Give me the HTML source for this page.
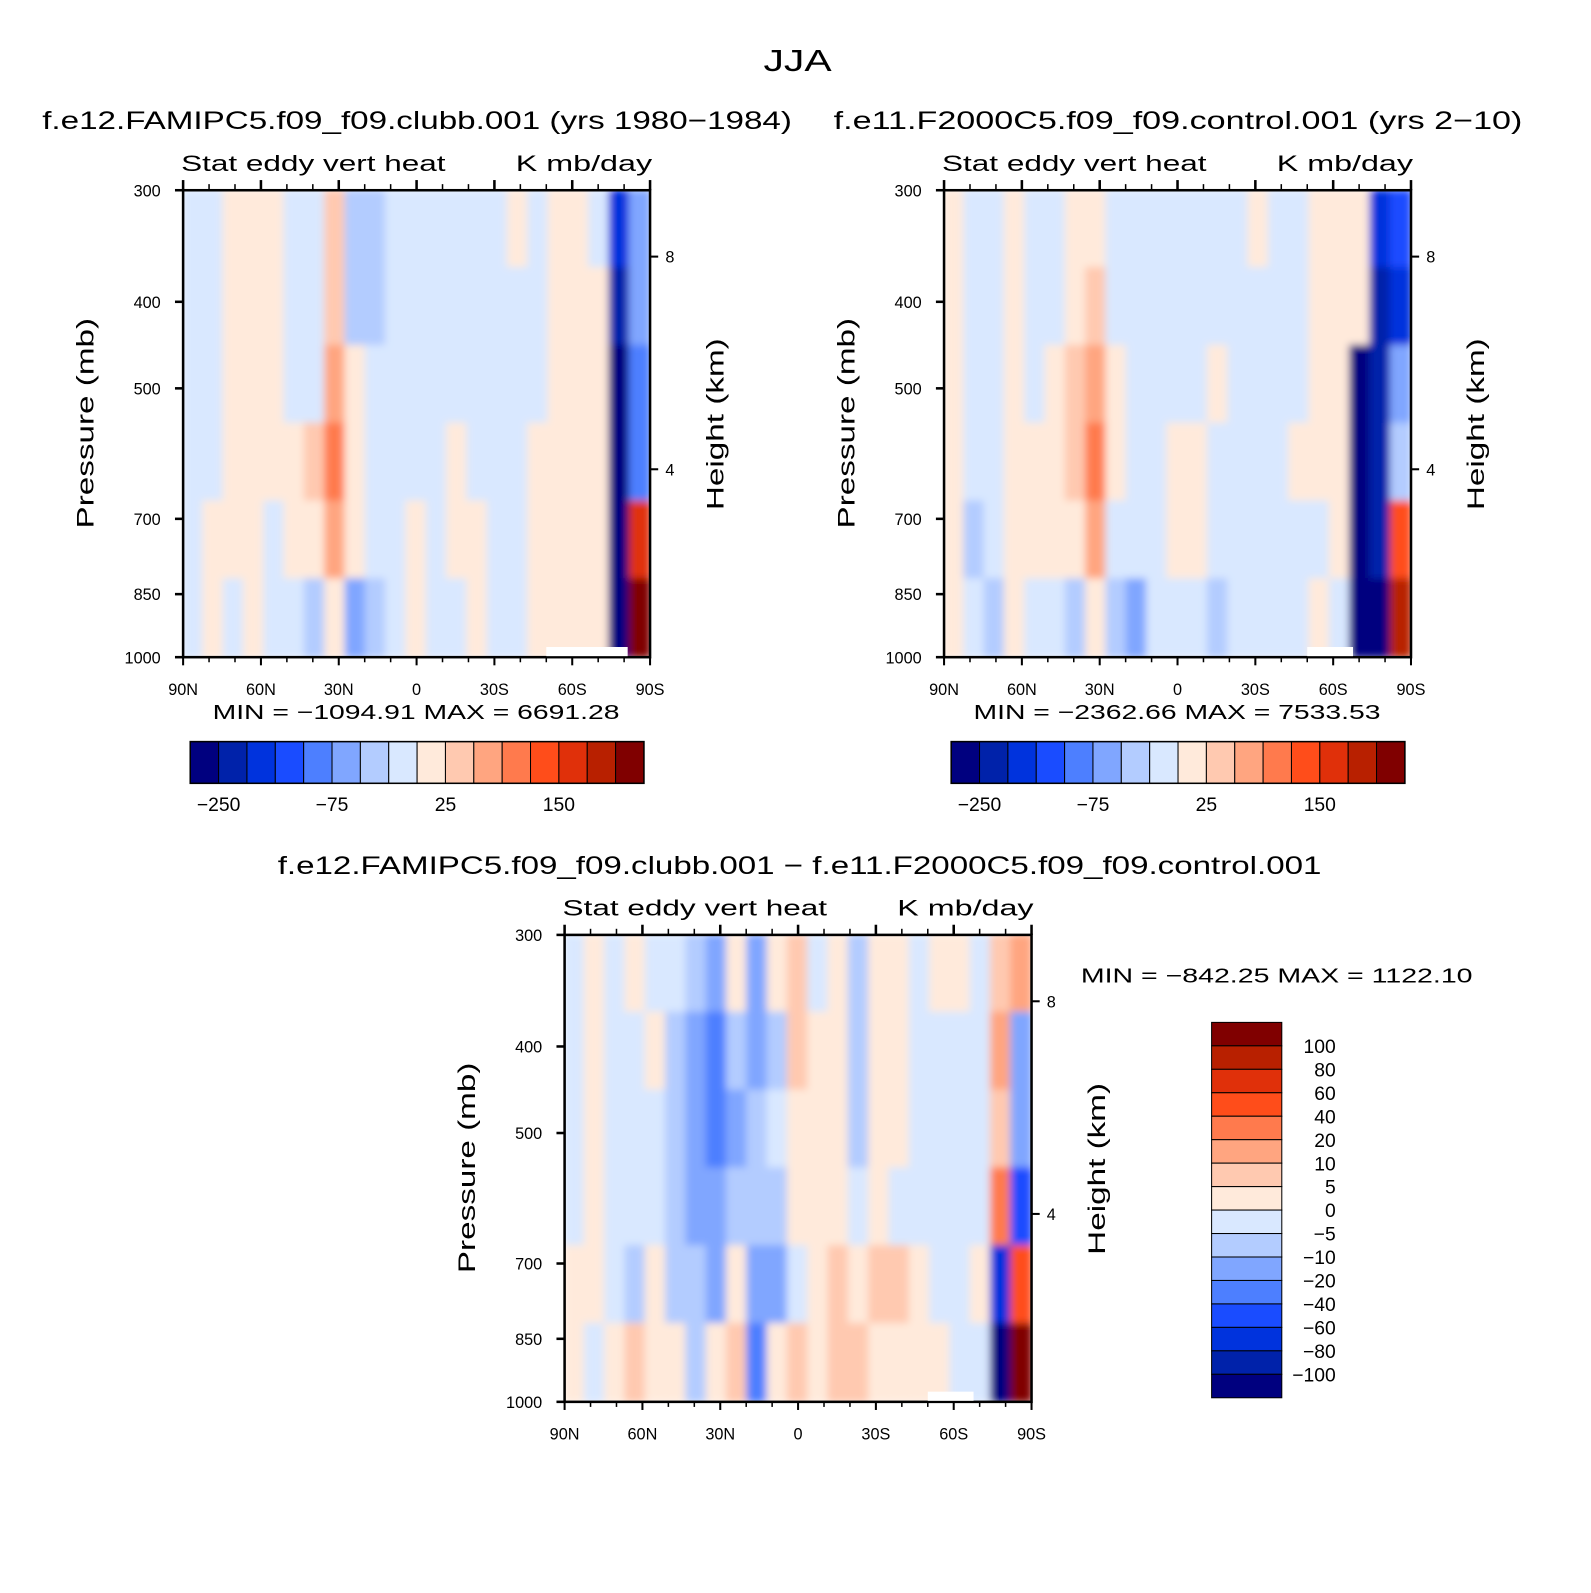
<!DOCTYPE html>
<html><head><meta charset="utf-8"><style>
body{margin:0;background:#fff}
svg text{font-family:"Liberation Sans","DejaVu Sans",sans-serif;fill:#000}
</style></head><body>
<svg width="1591" height="1588" viewBox="0 0 1591 1588" xmlns="http://www.w3.org/2000/svg">
<defs>
<filter id="bl" x="-5%" y="-5%" width="110%" height="110%"><feGaussianBlur stdDeviation="4"/></filter>
<clipPath id="cp1"><rect x="180" y="187" width="459" height="459"/></clipPath>
<clipPath id="cp2"><rect x="928" y="187" width="459" height="459"/></clipPath>
<clipPath id="cp3"><rect x="555" y="919" width="459" height="459"/></clipPath>
</defs>
<g id="c" transform="scale(1.0173)">
<text x="784" y="70" font-size="30" text-anchor="middle" textLength="67" lengthAdjust="spacingAndGlyphs">JJA</text>
</g>
</svg>
<script>
const palette=["#00007f","#0022aa","#0033dd","#1a4cff","#4d7fff","#80a6ff","#b3ccff","#d9e8ff","#ffeadb","#ffc9b0","#ffa580","#ff7a4d","#ff4d1a","#e0300a","#b82000","#800000"];
const latTicks=[90,60,30,0,-30,-60,-90];
const latLabels=["90N","60N","30N","0","30S","60S","90S"];
const presTicks=[300,400,500,700,850,1000];
const heightTicks=[8,4];
const heightTickPres=[356,616];
const cbarLabels12=["-250","-75","25","150"];
const cbarLabelIdx=[1,5,9,13];
const cbarLabels3=["100","80","60","40","20","10","5","0","\u22125","\u221210","\u221220","\u221240","\u221260","\u221280","\u2212100"];
// color-class grid per panel: rows top(300mb)->bottom(1000mb), columns 90N->90S
const grid1=["77888779667777778788725","77888779667777777788815","7788877a877777777788804","7788889b877778777888804","7888788a87787887788880d","7878776856787787788880f"];
const grid2=["87787788777777787788823","87787789777777777788812","8778789a877778777788015","8778889b877887777888016","8678888a77788777777801c","8768776865777677778700e"];
const grid3=["7878776585897868878879a","787786546569886887777a5","78777654567888688777795","787776556668887877777b3","8876866585578989987782c","8789886894898998888770f"];
const panels=[
 {x:180,y:187,grid:grid1,clip:"cp1",title:"f.e12.FAMIPC5.f09_f09.clubb.001 (yrs 1980\u22121984)",tx:410,tl:737,min:"MIN = \u22121094.91   MAX = 6691.28",cb:true,name:"panel-clubb"},
 {x:928,y:187,grid:grid2,clip:"cp2",title:"f.e11.F2000C5.f09_f09.control.001 (yrs 2\u221210)",tx:1158,tl:677,min:"MIN = \u22122362.66   MAX = 7533.53",cb:true,name:"panel-control"},
 {x:555,y:919,grid:grid3,clip:"cp3",title:"f.e12.FAMIPC5.f09_f09.clubb.001 \u2212 f.e11.F2000C5.f09_f09.control.001",tx:786,tl:1026,min:"MIN = \u2212842.25   MAX = 1122.10",cb:false,name:"panel-difference"}];
const svg=document.getElementById('c');
const NS="http://www.w3.org/2000/svg";
function mk(t,a,p){const e=document.createElementNS(NS,t);for(const k in a)e.setAttribute(k,a[k]);(p||svg).appendChild(e);return e;}
function txt(s,a,p,len){const e=mk('text',a,p);e.textContent=s;if(len){e.setAttribute('textLength',len);e.setAttribute('lengthAdjust','spacingAndGlyphs');}return e;}
const W=459,H=459;
panels.forEach(P=>{
 const xs=lat=>P.x+(90-lat)/180*W;
 const ys=p=>P.y+(Math.log(p)-Math.log(300))/(Math.log(1000)-Math.log(300))*H;
 const g=mk('g',{});
 
 
 const fg=mk('g',{'clip-path':'url(#'+P.clip+')'},g);
 const fi=mk('g',{filter:'url(#bl)'},fg);
 const rows=P.grid;
 const nr=rows.length;
 rows.forEach((r,i)=>{
  const nc=23;
  for(let j=0;j<nc;j++){
   const ch=r[j]||'7';
   const lat0=90-j*180/nc, lat1=90-(j+1)*180/nc;
   const p0=Math.exp(Math.log(300)+i/nr*(Math.log(1000)-Math.log(300)));
   const p1=Math.exp(Math.log(300)+(i+1)/nr*(Math.log(1000)-Math.log(300)));
   const x0=xs(lat0),y0=ys(p0);
   const cell=mk('rect',{x:x0-1,y:y0-1,width:xs(lat1)-x0+2,height:ys(p1)-y0+2,fill:palette[parseInt(ch,16)]},fi);
   
   
  }
 });
 mk('rect',{x:P.x,y:P.y,width:W,height:H,fill:'none',stroke:'#000','stroke-width':2.5},g);
 for(let l=90;l>=-90;l-=10){
  const major=l%30===0;
  mk('line',{x1:xs(l),x2:xs(l),y1:P.y,y2:P.y-(major?10:6),stroke:'#000','stroke-width':major?2.5:1.5},g);
  mk('line',{x1:xs(l),x2:xs(l),y1:P.y+H,y2:P.y+H+(major?8:5),stroke:'#000','stroke-width':major?2:1.5},g);
 }
 latTicks.forEach((l,i)=>{const t=txt(latLabels[i],{x:xs(l),y:P.y+H+37,'font-size':16,'text-anchor':'middle'},g);
  });
 presTicks.forEach(p=>{
  mk('line',{x1:P.x-8,x2:P.x,y1:ys(p),y2:ys(p),stroke:'#000','stroke-width':2.5},g);
  const t=txt(String(p),{x:P.x-22,y:ys(p)+6,'font-size':16,'text-anchor':'end'},g);
  
 });
 heightTicks.forEach((h,i)=>{
  const y=ys(heightTickPres[i]);
  mk('line',{x1:P.x+W,x2:P.x+W+8,y1:y,y2:y,stroke:'#000','stroke-width':2},g);
  const t=txt(String(h),{x:P.x+W+15,y:y+6,'font-size':16},g);
  
 });
 let t=txt(P.title,{x:P.tx,y:P.y-60,'font-size':25,'text-anchor':'middle'},g,P.tl);
 
 t=txt('Stat eddy vert heat',{x:P.x-2,y:P.y-19,'font-size':22},g,260);
 
 t=txt('K mb/day',{x:P.x+W+2,y:P.y-19,'font-size':22,'text-anchor':'end'},g,134);
 
 t=txt('Pressure (mb)',{x:0,y:0,'font-size':24,'text-anchor':'middle',transform:`translate(${P.x-88},${P.y+229}) rotate(-90)`},g,207);
 
 t=txt('Height (km)',{x:0,y:0,'font-size':24,'text-anchor':'middle',transform:`translate(${P.x+W+72},${P.y+230}) rotate(-90)`},g,169);
 
 if(P.cb){
  t=txt(P.min,{x:P.x+229,y:P.y+H+61,'font-size':20,'text-anchor':'middle'},g,400);
  
  const cx=P.x+7,cw=446/16;
  palette.forEach((c,i)=>{const r=mk('rect',{x:cx+i*cw,y:729,width:cw,height:41,fill:c,stroke:'#000','stroke-width':1},g);
   });
  mk('rect',{x:cx,y:729,width:446,height:41,fill:'none',stroke:'#000','stroke-width':1.5},g);
  cbarLabels12.forEach((s,i)=>{const tt=txt(s.replace('-','\u2212'),{x:cx+cbarLabelIdx[i]*cw,y:797,'font-size':19,'text-anchor':'middle'},g);
   });
 } else {
  t=txt(P.min,{x:1255,y:966,'font-size':20,'text-anchor':'middle'},g,385);
  
  const ch=369/16;
  palette.slice().reverse().forEach((c,i)=>{const r=mk('rect',{x:1191,y:1005+i*ch,width:69,height:ch,fill:c,stroke:'#000','stroke-width':1},g);
   });
  cbarLabels3.forEach((s,i)=>{const tt=txt(s,{x:1313,y:1005+(i+1)*ch+7,'font-size':19,'text-anchor':'end'},g);
   });
 }
});
mk('rect',{x:537,y:636,width:80,height:9,fill:'#fff'});
mk('rect',{x:1285,y:636,width:45,height:9,fill:'#fff'});
mk('rect',{x:912,y:1368,width:45,height:9,fill:'#fff'});
</script>
</body></html>
